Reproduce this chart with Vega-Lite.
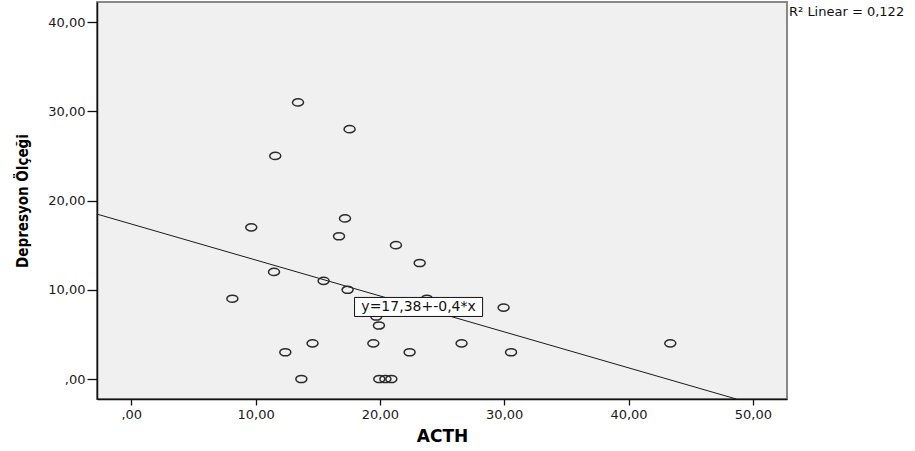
{
  "$schema": "https://vega.github.io/schema/vega-lite/v6.json",
  "width": 690,
  "height": 397,
  "autosize": {"type": "none"},
  "padding": {"left": 97, "top": 2, "right": 128, "bottom": 52},
  "background": "white",
  "config": {
    "view": {"fill": "#f0f0f0", "stroke": "#888888", "strokeWidth": 2},
    "font": "DejaVu Sans"
  },
  "datasets": {
    "points": [
      {"ACTH": 13.41, "Depresyon": 31},
      {"ACTH": 11.58, "Depresyon": 25},
      {"ACTH": 17.56, "Depresyon": 28},
      {"ACTH": 9.65, "Depresyon": 17},
      {"ACTH": 11.48, "Depresyon": 12},
      {"ACTH": 8.13, "Depresyon": 9},
      {"ACTH": 12.39, "Depresyon": 3},
      {"ACTH": 14.58, "Depresyon": 4},
      {"ACTH": 13.68, "Depresyon": 0},
      {"ACTH": 17.19, "Depresyon": 18},
      {"ACTH": 16.71, "Depresyon": 16},
      {"ACTH": 21.29, "Depresyon": 15},
      {"ACTH": 23.2, "Depresyon": 13},
      {"ACTH": 15.47, "Depresyon": 11},
      {"ACTH": 17.4, "Depresyon": 10},
      {"ACTH": 29.95, "Depresyon": 8},
      {"ACTH": 19.71, "Depresyon": 7},
      {"ACTH": 19.92, "Depresyon": 6},
      {"ACTH": 19.47, "Depresyon": 4},
      {"ACTH": 26.57, "Depresyon": 4},
      {"ACTH": 22.39, "Depresyon": 3},
      {"ACTH": 30.55, "Depresyon": 3},
      {"ACTH": 19.95, "Depresyon": 0},
      {"ACTH": 20.44, "Depresyon": 0},
      {"ACTH": 20.92, "Depresyon": 0},
      {"ACTH": 23.78, "Depresyon": 9},
      {"ACTH": 43.36, "Depresyon": 4}
    ],
    "fit": [
      {"ACTH": -2.76, "Depresyon": 18.48},
      {"ACTH": 48.67, "Depresyon": -2.24}
    ],
    "box": [
      {"ACTH": 17.96, "ACTH2": 28.26, "Depresyon": 7.01, "Depresyon2": 9.14}
    ],
    "labels": [
      {"ACTH": 23.11, "Depresyon": 8.07, "label": "y=17,38+-0,4*x"}
    ],
    "r2": [
      {"ACTH": 52.75, "Depresyon": 41.8, "label": "R² Linear = 0,122"}
    ]
  },
  "encoding": {
    "x": {
      "field": "ACTH",
      "type": "quantitative",
      "scale": {"domain": [-2.76, 52.75], "nice": false, "zero": false},
      "axis": {
        "values": [0, 10, 20, 30, 40, 50],
        "labelExpr": "datum.value == 0 ? ',00' : replace(format(datum.value, '.2f'), '.', ',')",
        "grid": false,
        "tickSize": 6,
        "tickColor": "#111111",
        "tickWidth": 1.3,
        "domainColor": "#111111",
        "domainWidth": 1.5,
        "labelFont": "DejaVu Sans",
        "labelFontSize": 13,
        "labelColor": "#1a1a1a",
        "labelPadding": 3,
        "title": "ACTH",
        "titleFont": "DejaVu Sans",
        "titleFontSize": 17,
        "titleFontWeight": "bold",
        "titleColor": "#000000",
        "titlePadding": 7
      }
    },
    "y": {
      "field": "Depresyon",
      "type": "quantitative",
      "scale": {"domain": [-2.24, 42.25], "nice": false, "zero": false},
      "axis": {
        "values": [0, 10, 20, 30, 40],
        "labelExpr": "datum.value == 0 ? ',00' : replace(format(datum.value, '.2f'), '.', ',')",
        "grid": false,
        "tickSize": 10,
        "tickColor": "#111111",
        "tickWidth": 1.3,
        "domainColor": "#111111",
        "domainWidth": 1.5,
        "labelFont": "DejaVu Sans",
        "labelFontSize": 13,
        "labelColor": "#1a1a1a",
        "labelPadding": 2,
        "title": "Depresyon Ölçeği",
        "titleFont": "Liberation Sans Narrow, DejaVu Sans Condensed, Liberation Sans",
        "titleFontSize": 15,
        "titleFontWeight": "bold",
        "titleColor": "#000000",
        "titlePadding": 17
      }
    }
  },
  "layer": [
    {
      "data": {"name": "fit"},
      "mark": {"type": "line", "color": "#1a1a1a", "strokeWidth": 1}
    },
    {
      "data": {"name": "points"},
      "mark": {
        "type": "point",
        "shape": "M-1,0A1,0.65,0,1,1,1,0A1,0.65,0,1,1,-1,0Z",
        "size": 121,
        "filled": false,
        "stroke": "#2a2a2a",
        "strokeWidth": 1.5,
        "opacity": 1
      }
    },
    {
      "data": {"name": "box"},
      "mark": {"type": "rect", "fill": "white", "stroke": "#111111", "strokeWidth": 1},
      "encoding": {
        "x2": {"field": "ACTH2"},
        "y2": {"field": "Depresyon2"}
      }
    },
    {
      "data": {"name": "labels"},
      "mark": {"type": "text", "font": "DejaVu Sans", "fontSize": 14, "color": "#111111", "align": "center", "baseline": "middle"},
      "encoding": {"text": {"field": "label"}}
    },
    {
      "data": {"name": "r2"},
      "mark": {"type": "text", "font": "DejaVu Sans", "fontSize": 13, "color": "#111111", "align": "left", "baseline": "top", "dx": 2},
      "encoding": {"text": {"field": "label"}}
    }
  ]
}
